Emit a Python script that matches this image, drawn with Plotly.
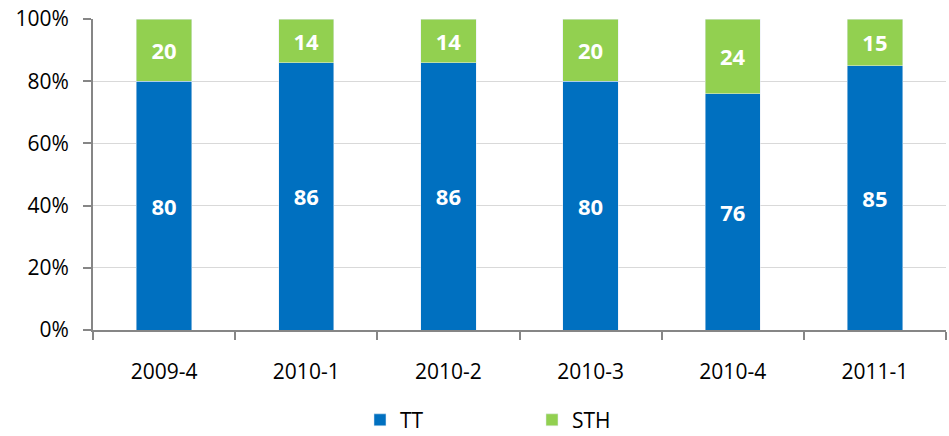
import plotly.graph_objects as go

categories = ["2009-4", "2010-1", "2010-2", "2010-3", "2010-4", "2011-1"]
tt_values = [80, 86, 86, 80, 76, 85]
sth_values = [20, 14, 14, 20, 24, 15]
y_ticks = [0, 20, 40, 60, 80, 100]
y_tick_labels = ["0%", "20%", "40%", "60%", "80%", "100%"]

FONT = "Open Sans, Liberation Sans, sans-serif"

fig = go.Figure()
fig.add_trace(go.Bar(
    name="TT", x=categories, y=tt_values, marker_color="#0070C0",
    text=[str(v) for v in tt_values], textposition="inside",
    insidetextanchor="middle",
    textfont=dict(color="white", size=22, family=FONT, weight="bold"),
    width=0.39,
))
fig.add_trace(go.Bar(
    name="STH", x=categories, y=sth_values, marker_color="#92D050",
    text=[str(v) for v in sth_values], textposition="inside",
    insidetextanchor="middle",
    textfont=dict(color="white", size=22, family=FONT, weight="bold"),
    width=0.39,
))

fig.update_layout(
    barmode="stack",
    width=949, height=436,
    margin=dict(l=93, r=3, t=19, b=106, autoexpand=False),
    paper_bgcolor="white", plot_bgcolor="white",
    font=dict(family=FONT, size=21, color="#000000"),
    uniformtext=dict(minsize=18, mode="show"),
    legend=dict(orientation="h", x=0.313, xanchor="left", y=-0.29, yanchor="middle",
                entrywidth=127, font=dict(size=21), itemwidth=30, traceorder="normal"),
    showlegend=True,
)
fig.update_yaxes(
    range=[0, 100], tickvals=y_ticks, ticktext=y_tick_labels,
    showgrid=True, gridcolor="#D9D9D9", gridwidth=1,
    showline=True, linecolor="#868686", linewidth=2,
    ticks="outside", ticklen=8, tickcolor="#868686", tickwidth=2,
    ticklabelstandoff=10, ticklabeloverflow="allow",
    zeroline=False, automargin=False,
)
fig.update_xaxes(
    type="category",
    showline=True, linecolor="#868686", linewidth=2,
    ticks="outside", tickson="boundaries", ticklen=8, tickcolor="#868686", tickwidth=2,
    ticklabelstandoff=22,
    showgrid=False, automargin=False,
)

fig.write_html(
    "out.html",
    config={"displayModeBar": False},
    post_script="document.body.style.margin='0';document.body.style.overflow='hidden';",
)
